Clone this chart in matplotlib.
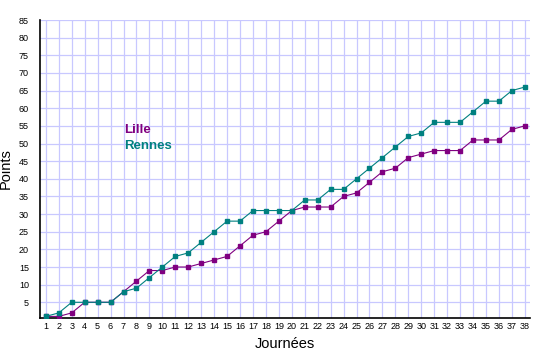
import numpy as np
import matplotlib
matplotlib.use("Agg")
import matplotlib.pyplot as plt

plt.rcParams["font.family"] = ["Liberation Sans", "DejaVu Sans"]

journees = list(range(1, 39))
lille = [1, 1, 2, 5, 5, 5, 8, 11, 14, 14, 15, 15, 16, 17, 18, 21, 24, 25, 28, 31,
         32, 32, 32, 35, 36, 39, 42, 43, 46, 47, 48, 48, 48, 51, 51, 51, 54, 55]
rennes = [1, 2, 5, 5, 5, 5, 8, 9, 12, 15, 18, 19, 22, 25, 28, 28, 31, 31, 31, 31,
          34, 34, 37, 37, 40, 43, 46, 49, 52, 53, 56, 56, 56, 59, 62, 62, 65, 66]
y_ticks = list(range(5, 90, 5))

PURPLE = "#800080"
TEAL = "#008080"
GRID = "#c8c8ff"

fig = plt.figure(figsize=(5.35, 3.6), dpi=100)
ax = fig.add_axes([40 / 535, 1 - 318 / 360, 490 / 535, 298 / 360])

ax.plot(journees, lille, color=PURPLE, lw=0.8, marker="s", ms=2.3, zorder=3)
ax.plot(journees, rennes, color=TEAL, lw=0.8, marker="s", ms=2.3, zorder=3)

ax.set_xlim(0.55, 38.4)
ax.set_ylim(0.55, 85)
ax.set_xticks(journees)
ax.set_yticks(y_ticks)
ax.tick_params(labelsize=6.5, length=0)
ax.tick_params(axis="x", pad=3)
ax.tick_params(axis="y", pad=8)
ax.grid(True, color=GRID, lw=0.9)
ax.set_axisbelow(True)
for side in ["top", "right"]:
    ax.spines[side].set_visible(False)
for side in ["left", "bottom"]:
    ax.spines[side].set_color("black")
    ax.spines[side].set_linewidth(1.2)

ax.set_xlabel("Journées", fontsize=10.5, labelpad=4)
ax.set_ylabel("Points", fontsize=10.5, labelpad=4)

ax.text(0.171, 0.631, "Lille", transform=ax.transAxes, color=PURPLE,
        fontsize=9.5, fontweight="bold", va="center")
ax.text(0.171, 0.577, "Rennes", transform=ax.transAxes, color=TEAL,
        fontsize=9.5, fontweight="bold", va="center")

fig.savefig("out.png", dpi=100)
